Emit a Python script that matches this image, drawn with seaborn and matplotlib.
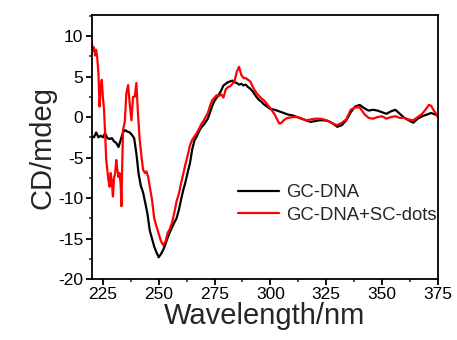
import numpy as np
import pandas as pd
import matplotlib
matplotlib.use("Agg")
import matplotlib.pyplot as plt
import seaborn as sns
from matplotlib.ticker import MultipleLocator

# --- DATA ---
wl_dna = [220, 221, 222, 223, 224, 225, 226, 227, 228, 229, 230, 231, 232, 233, 234,
          235, 236, 237, 238, 239, 240, 241, 242, 243, 244, 245, 246, 247, 248, 249,
          250, 251, 252, 253, 254, 255, 256, 257, 258, 259, 260, 261, 262, 263, 264,
          265, 266, 267, 268, 269, 270, 271, 272, 273, 274, 275, 276, 277, 278, 279,
          280, 281, 282, 283, 284, 285, 286, 287, 288, 289, 290, 291, 292, 293, 294,
          295, 296, 297, 298, 299, 300, 302, 304, 306, 308, 310, 312, 314, 316, 318,
          320, 322, 324, 326, 328, 330, 332, 334, 336, 338, 340, 342, 344, 346, 348,
          350, 352, 354, 356, 358, 360, 362, 364, 366, 368, 370, 372, 374, 375]
cd_dna = [-2.4, -2.5, -1.9, -2.5, -2.3, -2.5, -2.0, -2.6, -2.7, -2.6, -3.0, -3.2, -3.7, -2.8, -1.9,
          -1.6, -1.8, -1.9, -2.2, -2.6, -4.5, -7.0, -8.5, -9.3, -10.6, -12.0, -14.0, -15.0, -16.0, -16.7,
          -17.3, -16.9, -16.4, -15.7, -14.9, -14.2, -13.6, -13.0, -12.5, -11.5, -10.2, -9.0, -8.0, -6.8, -5.7,
          -4.0, -2.9, -2.4, -1.8, -1.3, -1.0, -0.6, -0.2, 0.6, 1.4, 2.0, 2.4, 2.8, 3.3, 3.9,
          4.1, 4.3, 4.4, 4.5, 4.3, 4.2, 4.0, 4.1, 3.9, 4.0, 3.7, 3.5, 3.2, 2.8, 2.4,
          2.1, 1.9, 1.6, 1.4, 1.2, 1.0, 0.9, 0.7, 0.5, 0.3, 0.2, 0.0, -0.2, -0.4, -0.6,
          -0.5, -0.4, -0.4, -0.5, -0.8, -1.2, -1.0, -0.4, 0.6, 1.3, 1.5, 1.1, 0.8, 0.9, 0.8,
          0.6, 0.4, 0.7, 0.9, 0.4, -0.1, -0.4, -0.7, -0.2, 0.1, 0.3, 0.5, 0.3, 0.2]

wl_dots = [220, 220.5, 221, 221.5, 222, 222.5, 223, 223.5, 224, 224.5, 225, 225.5, 226, 226.5,
           227, 227.5, 228, 228.5, 229, 229.5, 230, 230.5, 231, 231.5, 232, 232.5, 233, 233.3,
           234, 234.8, 235.5, 236.3, 237, 237.8, 238.5, 239.3, 240, 240.8, 241.5, 242.3, 243,
           243.8, 244.5, 245.3, 246, 247, 248, 249, 250, 251, 252, 253, 254, 255, 256, 257,
           258, 259, 260, 261, 262, 263, 264, 265, 266, 267, 268, 269, 270, 271, 272, 273,
           274, 275, 276, 277, 278, 279, 280, 281, 282, 283, 284, 285, 286, 287, 288, 289,
           290, 291, 292, 293, 294, 295, 296, 297, 298, 299, 300, 301, 302, 303, 304, 305,
           306, 307, 308, 310, 312, 314, 316, 318, 320, 322, 324, 326, 328, 330, 332, 334,
           336, 338, 340, 342, 344, 346, 348, 350, 352, 354, 356, 358, 360, 362, 364, 366,
           368, 370, 371, 372, 373, 374, 375]
cd_dots = [9.3, 8.2, 8.6, 7.6, 8.3, 7.2, 5.5, 1.3, 3.5, 4.6, 2.5, 1.0, -2.0, -5.3,
           -6.5, -7.8, -8.6, -6.9, -8.0, -9.8, -7.5, -6.9, -5.3, -6.5, -7.4, -6.9, -8.5, -11.0,
           -1.6, -0.6, 2.9, 3.95, 1.7, -0.4, 2.5, 2.5, 4.2, 0.0, -2.8, -4.9, -6.5,
           -6.9, -6.7, -7.4, -8.6, -10.2, -12.5, -13.5, -14.4, -15.3, -15.8, -15.4, -14.3, -13.8, -13.0, -11.8,
           -10.4, -9.5, -8.2, -7.0, -5.8, -4.7, -3.5, -2.8, -2.4, -2.0, -1.5, -0.9, -0.5, 0.0, 0.5, 1.4,
           2.1, 2.4, 2.7, 2.6, 2.8, 2.4, 3.4, 3.7, 3.8, 4.1, 4.5, 5.6, 6.2, 5.2, 4.8, 4.8,
           4.6, 4.4, 3.8, 3.3, 2.9, 2.6, 2.3, 2.1, 1.8, 1.4, 1.1, 0.7, 0.3, -0.3, -0.8, -0.7,
           -0.4, -0.2, -0.1, 0.0, 0.0, -0.2, -0.4, -0.3, -0.2, -0.2, -0.3, -0.5, -0.8, -1.0, -0.7, -0.3,
           0.9, 1.2, 1.2, 0.4, -0.1, -0.2, 0.0, 0.1, -0.2, 0.0, 0.1, -0.1, -0.1, -0.3, -0.4, 0.0,
           0.4, 1.1, 1.5, 1.4, 0.9, 0.5, 0.0]

labels = ["GC-DNA", "GC-DNA+SC-dots"]
colors = ["black", "#ff0000"]

df = pd.concat([
    pd.DataFrame({"wl": wl_dna, "cd": cd_dna, "sample": labels[0]}),
    pd.DataFrame({"wl": wl_dots, "cd": cd_dots, "sample": labels[1]}),
])

# --- PLOT ---
sns.set_style("ticks")
plt.rcParams["font.family"] = ["Liberation Sans", "DejaVu Sans"]
plt.rcParams["axes.unicode_minus"] = False

fig = plt.figure(figsize=(4.57, 3.40), dpi=100)
ax = fig.add_axes([0.2007, 0.179, 0.7573, 0.777])

sns.lineplot(data=df, x="wl", y="cd", hue="sample", palette=colors,
             estimator=None, sort=False, linewidth=1.6, ax=ax)

ax.set_xlim(220, 375)
ax.set_ylim(-20, 12.6)
ax.xaxis.set_major_locator(MultipleLocator(25))
ax.xaxis.set_minor_locator(MultipleLocator(12.5))
ax.yaxis.set_major_locator(MultipleLocator(5))
ax.yaxis.set_minor_locator(MultipleLocator(2.5))
ax.tick_params(which="major", direction="out", length=4, width=1.3,
               labelsize=12.5, colors="black", pad=2)
ax.tick_params(which="minor", direction="out", length=2.5, width=1.1)

for s in ax.spines.values():
    s.set_visible(True)
    s.set_linewidth(1.3)
    s.set_color("black")

ax.set_xlabel("Wavelength/nm", fontsize=21, labelpad=0)
ax.set_ylabel("CD/mdeg", fontsize=21, labelpad=1)

ax.legend(frameon=False, loc="center left", bbox_to_anchor=(0.375, 0.285),
          fontsize=13.3, handlelength=2.2, handletextpad=0.4, labelspacing=0.3,
          title=None)

fig.savefig("out.png", dpi=100)
